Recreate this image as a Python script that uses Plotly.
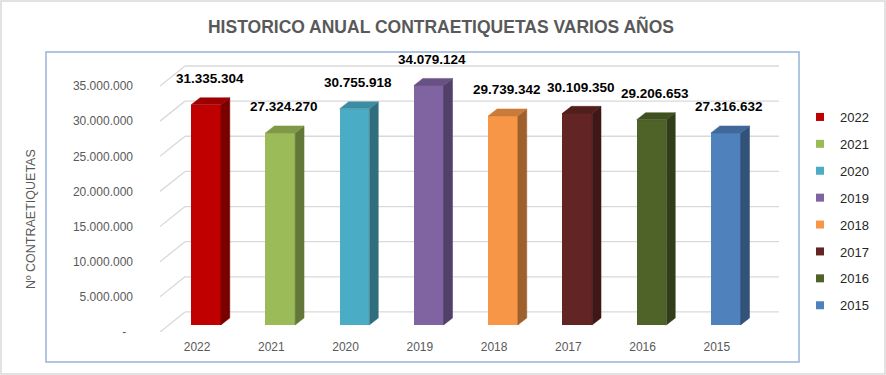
import plotly.graph_objects as go

# ---------------- data ----------------
years = ["2022", "2021", "2020", "2019", "2018", "2017", "2016", "2015"]
values = [31335304, 27324270, 30755918, 34079124, 29739342, 30109350, 29206653, 27316632]
front_colors = ["#C00000", "#9BBB59", "#4BACC6", "#8064A2",
                "#F79646", "#632523", "#4F6228", "#4F81BD"]
y_ticks = [0, 5000000, 10000000, 15000000, 20000000, 25000000, 30000000, 35000000]

title_text = "HISTORICO ANUAL CONTRAETIQUETAS VARIOS AÑOS"
y_title = "Nº CONTRAETIQUETAS"

# ---------------- style / pseudo-3D geometry ----------------
FONT = "Liberation Sans, Arial, sans-serif"
GRAY = "#595959"
BAR_W = 0.40          # bar width (category units)
DEPTH_X = 0.12        # bar depth, x projection (category units)
DEPTH_Y = 1.0e6       # bar depth, y projection (value units)
WALL_X = 0.337        # back wall offset
WALL_Y = 2.85e6
Y_MAX = 39.84e6


def fmt(v):
    return f"{int(v):,}".replace(",", ".")


def shade(hex_color, f):
    h = hex_color.lstrip("#")
    r, g, b = (int(h[i:i + 2], 16) for i in (0, 2, 4))
    return "#{:02X}{:02X}{:02X}".format(int(r * f), int(g * f), int(b * f))


fig = go.Figure()
n = len(years)

shapes = []
# back-wall gridlines (front edge -> back wall -> across), drawn below the bars
for t in y_ticks:
    shapes.append(dict(type="line", xref="x", yref="y", layer="below",
                       x0=-0.5, y0=t, x1=-0.5 + WALL_X, y1=t + WALL_Y,
                       line=dict(color="#D9D9D9", width=1.3)))
    shapes.append(dict(type="line", xref="x", yref="y", layer="below",
                       x0=-0.5 + WALL_X, y0=t + WALL_Y, x1=n - 0.5 + WALL_X, y1=t + WALL_Y,
                       line=dict(color="#D9D9D9", width=1.3)))

# bars (front faces)
for i, (yr, v, c) in enumerate(zip(years, values, front_colors)):
    fig.add_trace(go.Bar(
        x=[i + DEPTH_X], y=[v], base=[DEPTH_Y], width=BAR_W,
        marker=dict(color=c, line=dict(width=0)),
        name=yr, showlegend=False,
        hovertemplate=yr + ": %{y:,}<extra></extra>"))

# side and top faces
for i, (v, c) in enumerate(zip(values, front_colors)):
    xr = i + DEPTH_X + BAR_W / 2
    xl = xr - BAR_W
    side = shade(c, 0.64)
    top = shade(c, 0.82)
    fig.add_trace(go.Scatter(
        x=[xr, xr + DEPTH_X, xr + DEPTH_X, xr, xr],
        y=[DEPTH_Y, 2 * DEPTH_Y, v + 2 * DEPTH_Y, v + DEPTH_Y, DEPTH_Y],
        fill="toself", fillcolor=side, mode="lines",
        line=dict(color=side, width=0.5),
        hoverinfo="skip", showlegend=False))
    fig.add_trace(go.Scatter(
        x=[xl, xl + DEPTH_X, xr + DEPTH_X, xr, xl],
        y=[v + DEPTH_Y, v + 2 * DEPTH_Y, v + 2 * DEPTH_Y, v + DEPTH_Y, v + DEPTH_Y],
        fill="toself", fillcolor=top, mode="lines",
        line=dict(color=top, width=0.5),
        hoverinfo="skip", showlegend=False))

# legend entries
for yr, c in zip(years, front_colors):
    fig.add_trace(go.Scatter(
        x=[None], y=[None], mode="markers", name=yr, legendgroup=yr,
        marker=dict(symbol="square", size=8, color=c)))

# data labels
annotations = []
for i, v in enumerate(values):
    annotations.append(dict(
        x=i + DEPTH_X + 0.05, y=v + 2 * DEPTH_Y, xref="x", yref="y",
        text="<b>" + fmt(v) + "</b>", showarrow=False,
        yanchor="middle", yshift=19,
        font=dict(family=FONT, size=13.5, color="#000000")))

# y-axis title
annotations.append(dict(
    x=(31 - 160) / 619, y=(332 - 219) / 280, xref="paper", yref="paper",
    xanchor="center", yanchor="middle",
    text=y_title, textangle=-90, showarrow=False,
    font=dict(family=FONT, size=12.5, color=GRAY)))

shapes += [
    # plot-area border (light blue)
    dict(type="rect", xref="paper", yref="paper",
         x0=(46 - 160) / 619, x1=(799 - 160) / 619,
         y0=(332 - 362) / 280, y1=(332 - 52) / 280,
         line=dict(color="#95B3D7", width=1.5), fillcolor="rgba(0,0,0,0)", layer="below"),
    # chart border (light gray)
    dict(type="rect", xref="paper", yref="paper",
         x0=(1 - 160) / 619, x1=(885 - 160) / 619,
         y0=(332 - 374) / 280, y1=(332 - 1) / 280,
         line=dict(color="#D9D9D9", width=1.5), fillcolor="rgba(0,0,0,0)", layer="below"),
]

y_ticktext = [fmt(t) if t else "-\u00a0\u00a0" for t in y_ticks]

fig.update_layout(
    width=886, height=375,
    margin=dict(l=160, r=107, t=52, b=43),
    paper_bgcolor="white", plot_bgcolor="rgba(0,0,0,0)",
    title=dict(text="<b>" + title_text + "</b>", x=441 / 886, xanchor="center",
               y=1 - 27 / 375, yanchor="middle",
               font=dict(family=FONT, size=17.5, color=GRAY)),
    xaxis=dict(range=[-0.5, n - 0.5 + WALL_X], tickvals=list(range(n)), ticktext=years,
               showgrid=False, zeroline=False, showline=False, ticks="",
               ticklabelstandoff=6,
               tickfont=dict(family=FONT, size=12, color=GRAY), fixedrange=True),
    yaxis=dict(range=[0, Y_MAX], tickvals=y_ticks, ticktext=y_ticktext,
               showgrid=False, zeroline=False, showline=False, ticks="",
               ticklabelstandoff=26,
               tickfont=dict(family=FONT, size=12, color=GRAY), fixedrange=True),
    legend=dict(x=(800 - 160) / 619, xanchor="left", y=(332 - 102) / 280, yanchor="top",
                bgcolor="rgba(0,0,0,0)", tracegroupgap=7,
                font=dict(family=FONT, size=13, color="#262626")),
    annotations=annotations, shapes=shapes,
    bargap=0, showlegend=True,
)

fig.write_html("out.html", config={"displayModeBar": False},
               post_script="document.body.style.margin='0';document.body.style.overflow='hidden';")
